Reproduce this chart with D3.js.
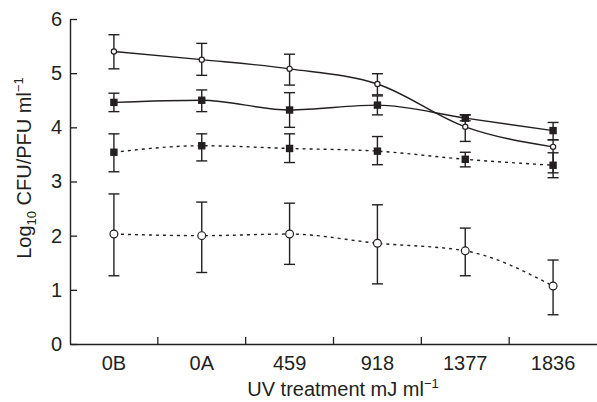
<!DOCTYPE html>
<html>
<head>
<meta charset="utf-8">
<script src="https://cdn.jsdelivr.net/npm/d3@7"></script>
<style>
  body { margin: 0; background: #fff; }
  svg text { font-family: "Liberation Sans", Arial, sans-serif; fill: #231f20; }
</style>
</head>
<body>
<div id="chart"></div>
<script>
const categories = ["0B", "0A", "459", "918", "1377", "1836"];
const yTicks = [0, 1, 2, 3, 4, 5, 6];

// open circles, solid line
const circSolid = [5.40, 5.25, 5.08, 4.80, 4.01, 3.64];
const circSolidHi = [5.71, 5.55, 5.35, 4.99, 4.23, 3.77];
const circSolidLo = [5.08, 4.96, 4.78, 4.60, 3.74, 3.16];

// filled squares, solid line
const sqSolid = [4.46, 4.50, 4.32, 4.41, 4.17, 3.94];
const sqSolidHi = [4.63, 4.69, 4.64, 4.58, 4.23, 4.09];
const sqSolidLo = [4.29, 4.29, 4.00, 4.23, 4.12, 3.77];

// filled squares, dotted line
const sqDot = [3.54, 3.66, 3.61, 3.56, 3.41, 3.30];
const sqDotHi = [3.88, 3.88, 3.88, 3.83, 3.54, 3.53];
const sqDotLo = [3.18, 3.38, 3.35, 3.31, 3.27, 3.07];

// open circles, dotted line
const circDot = [2.03, 2.00, 2.03, 1.86, 1.72, 1.07];
const circDotHi = [2.77, 2.62, 2.60, 2.57, 2.14, 1.55];
const circDotLo = [1.26, 1.32, 1.47, 1.11, 1.26, 0.54];

const W = 597, H = 402;
const ink = "#231f20";

const svg = d3.select("#chart").append("svg")
  .attr("width", W)
  .attr("height", H);

const x = d3.scaleBand().domain(categories).range([70, 597]).padding(0);
const y = d3.scaleLinear().domain([0, 6]).range([344, 19]);
const cx = c => x(c) + x.bandwidth() / 2;

// y axis
const yAxis = svg.append("g")
  .attr("transform", "translate(70,0)")
  .call(d3.axisLeft(y).tickValues(yTicks).tickFormat(d3.format("d"))
    .tickSizeInner(-7).tickSizeOuter(0).tickPadding(8));
yAxis.select(".domain").attr("stroke", ink).attr("stroke-width", 1.4);
yAxis.selectAll(".tick line").attr("stroke", ink).attr("stroke-width", 1.3);
yAxis.selectAll(".tick text").style("font-size", "20px").attr("fill", ink);

// x axis (labels at band centers, ticks at band edges)
const xAxis = svg.append("g")
  .attr("transform", "translate(0,344)")
  .call(d3.axisBottom(x).tickSize(0).tickPadding(12));
xAxis.select(".domain").attr("stroke", ink).attr("stroke-width", 1.4);
xAxis.selectAll(".tick text").style("font-size", "20px").attr("fill", ink);

svg.append("g").selectAll("line")
  .data(categories.slice(1))
  .enter().append("line")
  .attr("x1", d => x(d)).attr("x2", d => x(d))
  .attr("y1", 344).attr("y2", 337)
  .attr("stroke", ink).attr("stroke-width", 1.3);

const series = [
  { v: circSolid, hi: circSolidHi, lo: circSolidLo, shape: "circle", r: 2.6, dash: null },
  { v: sqSolid, hi: sqSolidHi, lo: sqSolidLo, shape: "square", r: 3.7, dash: null },
  { v: sqDot, hi: sqDotHi, lo: sqDotLo, shape: "square", r: 3.7, dash: "3,4" },
  { v: circDot, hi: circDotHi, lo: circDotLo, shape: "circle", r: 3.9, dash: "3,4" }
];

const line = d3.line()
  .x((d, i) => cx(categories[i]))
  .y(d => y(d))
  .curve(d3.curveMonotoneX);

// lines
series.forEach(s => {
  svg.append("path")
    .datum(s.v)
    .attr("d", line)
    .attr("fill", "none")
    .attr("stroke", ink)
    .attr("stroke-width", 1.4)
    .attr("stroke-dasharray", s.dash);
});

// error bars
series.forEach(s => {
  const g = svg.append("g").attr("stroke", ink).attr("stroke-width", 1.4);
  categories.forEach((c, i) => {
    const px = cx(c);
    g.append("line").attr("x1", px).attr("x2", px).attr("y1", y(s.hi[i])).attr("y2", y(s.lo[i]));
    [s.hi[i], s.lo[i]].forEach(v => {
      g.append("line").attr("x1", px - 5.5).attr("x2", px + 5.5).attr("y1", y(v)).attr("y2", y(v));
    });
  });
});

// markers
series.forEach(s => {
  const g = svg.append("g");
  s.v.forEach((v, i) => {
    const px = cx(categories[i]), py = y(v);
    if (s.shape === "circle") {
      g.append("circle").attr("cx", px).attr("cy", py).attr("r", s.r)
        .attr("fill", "#fff").attr("stroke", ink).attr("stroke-width", 1.2);
    } else {
      g.append("rect").attr("x", px - s.r).attr("y", py - s.r)
        .attr("width", 2 * s.r).attr("height", 2 * s.r).attr("fill", ink);
    }
  });
});

// X label
const xl = svg.append("text")
  .attr("x", 343)
  .attr("y", 396)
  .attr("text-anchor", "middle")
  .style("font-size", "20px");
xl.append("tspan").text("UV treatment mJ ml");
xl.append("tspan").attr("dy", -8).style("font-size", "13px").text("\u22121");

// Y label
const yl = svg.append("text")
  .attr("transform", "translate(31,168) rotate(-90)")
  .attr("text-anchor", "middle")
  .style("font-size", "20px");
yl.append("tspan").text("Log");
yl.append("tspan").attr("dy", 5).style("font-size", "13px").text("10");
yl.append("tspan").attr("dy", -5).text(" CFU/PFU ml");
yl.append("tspan").attr("dy", -8).style("font-size", "13px").text("\u22121");
</script>
</body>
</html>
